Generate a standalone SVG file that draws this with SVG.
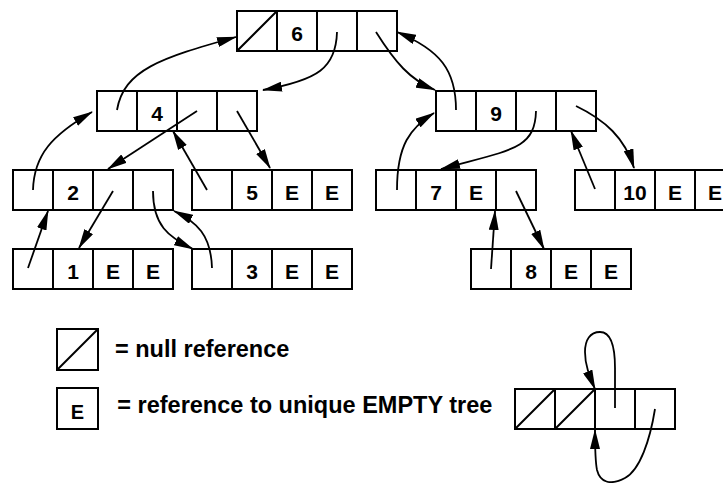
<svg xmlns="http://www.w3.org/2000/svg" width="723" height="483" viewBox="0 0 723 483">
  <style>
    .box { fill: #fff; stroke: #000; stroke-width: 2; }
    .div { fill: none; stroke: #000; stroke-width: 2; }
    .lbl { font-family: "Liberation Sans", Arial, sans-serif; font-weight: bold; font-size: 21px; text-anchor: middle; fill: #000; }
    .legend { font-family: "Liberation Sans", Arial, sans-serif; font-weight: bold; font-size: 23.5px; fill: #000; }
    .ptr { fill: none; stroke: #000; stroke-width: 1.8; marker-end: url(#ah); }
  </style>
  <defs>
    <marker id="ah" markerUnits="userSpaceOnUse" viewBox="0 0 20 10" markerWidth="20" markerHeight="10" refX="19" refY="5" orient="auto">
      <path d="M0,0 L20,5 L0,10 z" fill="#000"/>
    </marker>
  </defs>

  <rect width="723" height="483" fill="#fff"/>

  <!-- tree nodes: [parent | key | left | right] -->
  <g id="node-6" transform="translate(237,11)">
    <rect class="box" width="160" height="40"/>
    <path class="div" d="M40,0V40M80,0V40M120,0V40M0,40L40,0"/>
    <text class="lbl" x="60" y="29.7">6</text>
  </g>
  <g id="node-4" transform="translate(97,91)">
    <rect class="box" width="160" height="40"/>
    <path class="div" d="M40,0V40M80,0V40M120,0V40"/>
    <text class="lbl" x="60" y="29.7">4</text>
  </g>
  <g id="node-9" transform="translate(436,91)">
    <rect class="box" width="160" height="40"/>
    <path class="div" d="M40,0V40M80,0V40M120,0V40"/>
    <text class="lbl" x="60" y="29.7">9</text>
  </g>
  <g id="node-2" transform="translate(13,170)">
    <rect class="box" width="160" height="40"/>
    <path class="div" d="M40,0V40M80,0V40M120,0V40"/>
    <text class="lbl" x="60" y="29.7">2</text>
  </g>
  <g id="node-5" transform="translate(192,170)">
    <rect class="box" width="160" height="40"/>
    <path class="div" d="M40,0V40M80,0V40M120,0V40"/>
    <text class="lbl" x="60" y="29.7">5</text>
    <text class="lbl" x="100" y="29.7">E</text>
    <text class="lbl" x="140" y="29.7">E</text>
  </g>
  <g id="node-7" transform="translate(376,170)">
    <rect class="box" width="160" height="40"/>
    <path class="div" d="M40,0V40M80,0V40M120,0V40"/>
    <text class="lbl" x="60" y="29.7">7</text>
    <text class="lbl" x="100" y="29.7">E</text>
  </g>
  <g id="node-10" transform="translate(575,170)">
    <rect class="box" width="160" height="40"/>
    <path class="div" d="M40,0V40M80,0V40M120,0V40"/>
    <text class="lbl" x="60" y="29.7">10</text>
    <text class="lbl" x="100" y="29.7">E</text>
    <text class="lbl" x="140" y="29.7">E</text>
  </g>
  <g id="node-1" transform="translate(13,249)">
    <rect class="box" width="160" height="40"/>
    <path class="div" d="M40,0V40M80,0V40M120,0V40"/>
    <text class="lbl" x="60" y="29.7">1</text>
    <text class="lbl" x="100" y="29.7">E</text>
    <text class="lbl" x="140" y="29.7">E</text>
  </g>
  <g id="node-3" transform="translate(192,249)">
    <rect class="box" width="160" height="40"/>
    <path class="div" d="M40,0V40M80,0V40M120,0V40"/>
    <text class="lbl" x="60" y="29.7">3</text>
    <text class="lbl" x="100" y="29.7">E</text>
    <text class="lbl" x="140" y="29.7">E</text>
  </g>
  <g id="node-8" transform="translate(471,249)">
    <rect class="box" width="160" height="40"/>
    <path class="div" d="M40,0V40M80,0V40M120,0V40"/>
    <text class="lbl" x="60" y="29.7">8</text>
    <text class="lbl" x="100" y="29.7">E</text>
    <text class="lbl" x="140" y="29.7">E</text>
  </g>

  <!-- legend -->
  <g id="legend-null">
    <rect class="box" x="57" y="329" width="41" height="41"/>
    <path class="div" d="M57,370L98,329"/>
    <text class="legend" x="115" y="357.3">= null reference</text>
  </g>
  <g id="legend-empty">
    <rect class="box" x="57" y="388" width="41" height="41"/>
    <text class="lbl" x="77.5" y="419.3" style="font-size:20px">E</text>
    <text class="legend" x="117.3" y="413.3">= reference to unique EMPTY tree</text>
  </g>
  <g id="node-empty" transform="translate(515,389)">
    <rect class="box" width="160" height="40"/>
    <path class="div" d="M40,0V40M80,0V40M120,0V40M0,40L40,0M40,40L80,0"/>
  </g>

  <!-- pointers -->
  <g id="connectors">
    <path class="ptr" d="M117,110 C124,70 160,58 236,37"/>
    <path class="ptr" d="M337,32 C336,68 318,80 263,90"/>
    <path class="ptr" d="M376,32 C395,62 410,80 435,90"/>
    <path class="ptr" d="M456,110 C456,70 440,50 397,32"/>
    <path class="ptr" d="M33,190 C34,155 52,135 92,112"/>
    <path class="ptr" d="M197,111 L108,169"/>
    <path class="ptr" d="M237,111 L270,168"/>
    <path class="ptr" d="M207,190 L173,131"/>
    <path class="ptr" d="M113,191 L79,248"/>
    <path class="ptr" d="M28,268 L48,211"/>
    <path class="ptr" d="M153,191 C153,225 168,237 193,249"/>
    <path class="ptr" d="M212,268 C211,235 197,222 174,211"/>
    <path class="ptr" d="M536,111 C535,150 510,150 441,169"/>
    <path class="ptr" d="M397,190 C397,145 410,128 434,113"/>
    <path class="ptr" d="M576,106 C605,120 625,138 634,168"/>
    <path class="ptr" d="M595,189 L571,131"/>
    <path class="ptr" d="M516,191 L544,249"/>
    <path class="ptr" d="M491,269 L495,211"/>
    <path class="ptr" d="M615,408 L615,368 C615,340 608,332 600,332 C590,332 585,340 585,352 C585,366 590,377 595,389"/>
    <path class="ptr" d="M655,409 C650,440 640,470 625,478 C610,486 600,482 597,470 C595,460 595,445 595,430"/>
  </g>
</svg>
